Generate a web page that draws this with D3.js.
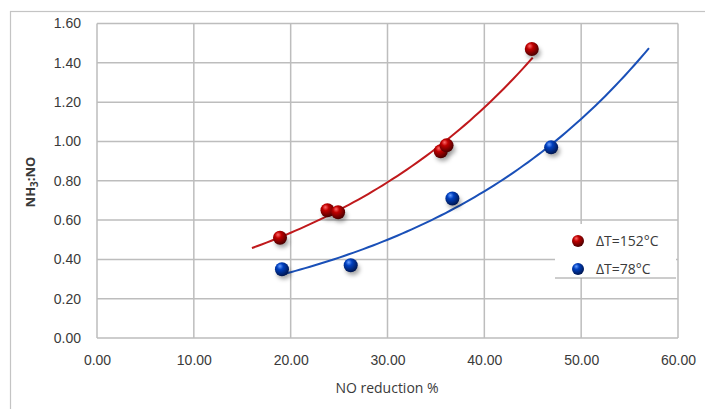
<!DOCTYPE html>
<html>
<head>
<meta charset="utf-8">
<script src="https://cdn.jsdelivr.net/npm/d3@7"></script>
<style>
  body { margin: 0; background: #fff; }
  svg { display: block; font-family: "Open Sans", "Noto Sans", sans-serif; }
</style>
</head>
<body>
<div id="container"></div>
<script>
// measured points
const red152X = [18.9, 23.8, 24.9, 35.5, 36.1, 44.9]
const red152Y = [0.51, 0.65, 0.64, 0.95, 0.98, 1.47]
const blue78X = [19.1, 26.2, 36.7, 46.9]
const blue78Y = [0.35, 0.37, 0.71, 0.97]
const xTicks = [0, 10, 20, 30, 40, 50, 60]
const yTicks = [0, 0.2, 0.4, 0.6, 0.8, 1.0, 1.2, 1.4, 1.6]
const seriesNames = ['ΔT=152°C', 'ΔT=78°C']
// trendline ranges (with Excel style forecast)
const redTrendRange = [16, 45]
const blueTrendRange = [19, 57]

const width = 705
const height = 409
const plotLeft = 97, plotRight = 678, plotTop = 23.5, plotBottom = 338

const svg = d3.select('#container')
  .append('svg')
  .attr('width', width)
  .attr('height', height)

const defs = svg.append('defs')

const makeBall = (id, light, mid, dark) => {
  const g = defs.append('radialGradient')
    .attr('id', id)
    .attr('cx', '40%').attr('cy', '35%').attr('r', '65%')
    .attr('fx', '35%').attr('fy', '28%')
  g.append('stop').attr('offset', '0%').attr('stop-color', light)
  g.append('stop').attr('offset', '35%').attr('stop-color', mid)
  g.append('stop').attr('offset', '100%').attr('stop-color', dark)
}
makeBall('ballRed', '#ff6a6a', '#c00000', '#4a0000')
makeBall('ballBlue', '#6aa0ff', '#0040c0', '#001650')

defs.append('filter').attr('id', 'shadow')
  .attr('x', '-50%').attr('y', '-50%').attr('width', '200%').attr('height', '200%')
  .append('feGaussianBlur').attr('stdDeviation', 2)

// outer frame
svg.append('rect')
  .attr('x', 10.5).attr('y', 11.5)
  .attr('width', 720).attr('height', 420)
  .attr('fill', 'none')
  .attr('stroke', '#c4c4c4')
  .attr('stroke-width', 1.2)

const scaleX = d3.scaleLinear().domain([0, 60]).range([plotLeft, plotRight])
const scaleY = d3.scaleLinear().domain([0, 1.6]).range([plotBottom, plotTop])

// gridlines
svg.append('g').selectAll('line')
  .data(xTicks)
  .enter()
  .append('line')
  .attr('x1', d => scaleX(d)).attr('x2', d => scaleX(d))
  .attr('y1', plotTop).attr('y2', plotBottom)
  .attr('stroke', '#bdbdbd')
  .attr('stroke-width', 1.5)

svg.append('g').selectAll('line')
  .data(yTicks)
  .enter()
  .append('line')
  .attr('x1', plotLeft).attr('x2', plotRight)
  .attr('y1', d => scaleY(d)).attr('y2', d => scaleY(d))
  .attr('stroke', '#bdbdbd')
  .attr('stroke-width', 1.5)

// axes, labels only
const axisX = d3.axisBottom(scaleX).tickValues(xTicks).tickFormat(d3.format('.2f')).tickSize(0).tickPadding(17)
const gx = svg.append('g')
  .attr('transform', `translate(0, ${plotBottom})`)
  .call(axisX)
gx.select('.domain').remove()
gx.selectAll('text').attr('fill', '#3a3a3a').style('font-size', '14px')

const axisY = d3.axisLeft(scaleY).tickValues(yTicks).tickFormat(d3.format('.2f')).tickSize(0).tickPadding(16)
const gy = svg.append('g')
  .attr('transform', `translate(${plotLeft}, 0)`)
  .call(axisY)
gy.select('.domain').remove()
gy.selectAll('text').attr('fill', '#3a3a3a').style('font-size', '14px')

// axis titles
svg.append('text')
  .attr('x', 387).attr('y', 393)
  .attr('text-anchor', 'middle')
  .attr('fill', '#3a3a3a')
  .style('font-size', '14px')
  .text('NO reduction %')

const yTitle = svg.append('text')
  .attr('transform', 'translate(35, 182) rotate(-90)')
  .attr('text-anchor', 'middle')
  .attr('fill', '#3a3a3a')
  .style('font-size', '13px')
  .style('font-weight', 'bold')
yTitle.append('tspan').text('NH')
yTitle.append('tspan').attr('dy', 3).style('font-size', '10px').text('3')
yTitle.append('tspan').attr('dy', -3).text(':NO')

// exponential least squares fit like Excel (ln y on x)
const expFit = (xs, ys) => {
  const ly = ys.map(Math.log)
  const mx = d3.mean(xs), my = d3.mean(ly)
  const b = d3.sum(xs, (x, i) => (x - mx) * (ly[i] - my)) / d3.sum(xs, x => (x - mx) ** 2)
  const a = Math.exp(my - b * mx)
  return x => a * Math.exp(b * x)
}

const trend = (xs, ys, range, color) => {
  const f = expFit(xs, ys)
  const pts = d3.range(range[0], range[1] + 0.001, 0.5).map(x => [x, f(x)])
  svg.append('path')
    .datum(pts)
    .attr('d', d3.line().x(d => scaleX(d[0])).y(d => scaleY(d[1])).curve(d3.curveBasis))
    .attr('fill', 'none')
    .attr('stroke', color)
    .attr('stroke-width', 2)
}

const points = (xs, ys, grad) => {
  const data = xs.map((x, i) => [x, ys[i]])
  const g = svg.append('g')
  g.selectAll('ellipse')
    .data(data)
    .enter()
    .append('ellipse')
    .attr('cx', d => scaleX(d[0]) + 2)
    .attr('cy', d => scaleY(d[1]) + 4)
    .attr('rx', 7).attr('ry', 6)
    .attr('fill', 'rgba(0,0,0,0.35)')
    .attr('filter', 'url(#shadow)')
  g.selectAll('circle')
    .data(data)
    .enter()
    .append('circle')
    .attr('r', 7)
    .attr('cx', d => scaleX(d[0]))
    .attr('cy', d => scaleY(d[1]))
    .attr('fill', `url(#${grad})`)
}

trend(red152X, red152Y, redTrendRange, '#c0191c')
trend(blue78X, blue78Y, blueTrendRange, '#1a50b8')
points(red152X, red152Y, 'ballRed')
points(blue78X, blue78Y, 'ballBlue')

// legend
const legend = svg.append('g')
legend.append('rect')
  .attr('x', 555).attr('y', 224)
  .attr('width', 121).attr('height', 54)
  .attr('fill', '#fff')
legend.append('line')
  .attr('x1', 555).attr('x2', 676)
  .attr('y1', 278).attr('y2', 278)
  .attr('stroke', '#9a9a9a')
  .attr('stroke-width', 1)

const legendItems = legend.selectAll('g.item')
  .data(seriesNames)
  .enter()
  .append('g')
  .attr('transform', (d, i) => `translate(578, ${241 + i * 28})`)
legendItems.append('circle')
  .attr('r', 6)
  .attr('fill', (d, i) => i == 0 ? 'url(#ballRed)' : 'url(#ballBlue)')
legendItems.append('text')
  .attr('x', 18).attr('y', 5)
  .attr('fill', '#3a3a3a')
  .style('font-size', '14px')
  .text(d => d)
</script>
</body>
</html>
